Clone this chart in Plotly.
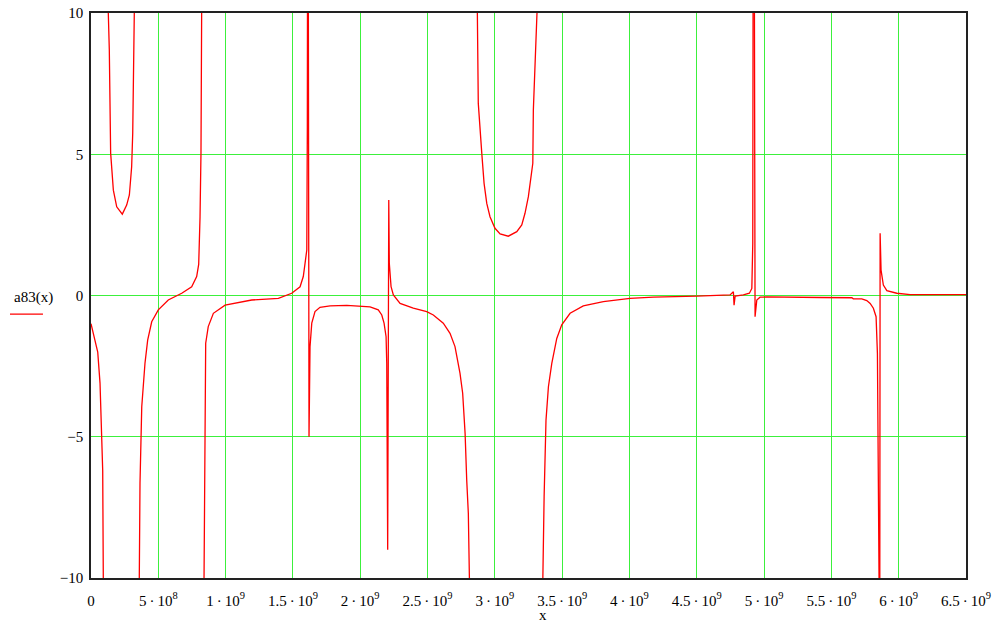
import plotly.graph_objects as go

# x values in units of 1e9, y values of a83(x); None breaks the curve at poles
seg1_x = [0, 0.005, 0.05, 0.067, 0.079, 0.087, 0.092]
seg1_y = [-1.0, -1.1, -2.0, -3.1, -5.0, -6.2, -10.5]

seg2_x = [0.128, 0.1285, 0.136, 0.146, 0.166, 0.191, 0.2325, 0.265, 0.285, 0.302, 0.31, 0.322, 0.323]
seg2_y = [10.5, 10, 8.7, 5.04, 3.73, 3.14, 2.88, 3.2, 3.56, 4.56, 5.75, 10, 10.5]

seg3_x = [0.358, 0.359, 0.364, 0.377, 0.401, 0.421, 0.451, 0.5, 0.574, 0.674, 0.748, 0.785, 0.8, 0.81,
          0.817, 0.822, 0.823]
seg3_y = [-10.5, -10, -6.64, -3.94, -2.4, -1.58, -0.93, -0.51, -0.16, 0.08, 0.31, 0.67, 1.1, 2.79,
          5.04, 10, 10.5]

seg4_x = [0.839, 0.8395, 0.842, 0.852, 0.871, 0.909, 0.996, 1.194, 1.392, 1.491, 1.553, 1.577, 1.59,
          1.603, 1.607, 1.611, 1.6196, 1.627, 1.64, 1.664, 1.701, 1.776, 1.9, 1.999, 2.073, 2.134,
          2.16, 2.177, 2.192, 2.197, 2.201, 2.204, 2.212, 2.216, 2.229, 2.246, 2.296, 2.394, 2.494,
          2.543, 2.617, 2.667, 2.704, 2.741, 2.761, 2.779, 2.791, 2.803, 2.811, 2.812]
seg4_y = [-10.5, -10, -6.64, -1.69, -1.1, -0.63, -0.34, -0.16, -0.1, 0.08, 0.31, 0.67, 1.14,
          1.61, 6, 22, -5.0, -1.81, -0.98, -0.57, -0.42, -0.37, -0.35, -0.37, -0.4, -0.51,
          -0.69, -0.98, -1.46, -2.4, -5.35, -9.0, 3.38, 1.14, 0.31, 0.02, -0.28, -0.45, -0.57,
          -0.69, -0.98, -1.34, -1.81, -2.75, -3.46, -4.88, -6.53, -7.71, -10, -10.5]

seg5_x = [2.869, 2.87, 2.877, 2.903, 2.92, 2.94, 2.964, 3.001, 3.039, 3.1, 3.163, 3.2, 3.224, 3.249,
          3.267, 3.282, 3.286, 3.316, 3.317]
seg5_y = [10.5, 10, 6.8, 5.03, 3.97, 3.26, 2.79, 2.38, 2.18, 2.1, 2.26, 2.5, 2.91, 3.5,
          4.2, 4.68, 6.57, 10, 10.5]

seg6_x = [3.355, 3.356, 3.366, 3.38, 3.398, 3.423, 3.44, 3.46, 3.497, 3.559, 3.657, 3.806, 4.004,
          4.178, 4.5, 4.673, 4.747, 4.772, 4.777, 4.785, 4.846, 4.891, 4.909, 4.916, 4.92, 4.922,
          4.933, 4.946, 4.97, 5.02, 5.416, 5.652, 5.663, 5.726, 5.763, 5.788, 5.812, 5.832, 5.842,
          5.849, 5.854, 5.856, 5.862, 5.869, 5.886, 5.912, 5.986, 6.085, 6.5]
seg6_y = [-10.5, -10, -7.12, -4.41, -3.23, -2.4, -1.93, -1.52, -1.04, -0.63, -0.37, -0.22, -0.1,
          -0.06, -0.02, 0.01, 0.02, 0.13, -0.34, -0.02, 0.02, 0.08, 0.25, 1.85, 10, 25,
          -0.75, -0.16, -0.06, -0.05, -0.07, -0.08, -0.12, -0.12, -0.18, -0.28, -0.45, -0.75, -2.05,
          -5.59, -10, -30, 2.2, 0.9, 0.37, 0.17, 0.08, 0.03, 0.03]

x_tick_vals = [0, 0.5, 1, 1.5, 2, 2.5, 3, 3.5, 4, 4.5, 5, 5.5, 6, 6.5]
x_tick_text = ["0", "5\u2009·\u200910<sup>8</sup>", "1\u2009·\u200910<sup>9</sup>", "1.5\u2009·\u200910<sup>9</sup>",
               "2\u2009·\u200910<sup>9</sup>", "2.5\u2009·\u200910<sup>9</sup>", "3\u2009·\u200910<sup>9</sup>",
               "3.5\u2009·\u200910<sup>9</sup>", "4\u2009·\u200910<sup>9</sup>", "4.5\u2009·\u200910<sup>9</sup>",
               "5\u2009·\u200910<sup>9</sup>", "5.5\u2009·\u200910<sup>9</sup>", "6\u2009·\u200910<sup>9</sup>",
               "6.5\u2009·\u200910<sup>9</sup>"]
y_tick_vals = [-10, -5, 0, 5, 10]
y_tick_text = ["\u221210", "\u22125", "0", "5", "10"]

segments = [(seg1_x, seg1_y), (seg2_x, seg2_y), (seg3_x, seg3_y),
            (seg4_x, seg4_y), (seg5_x, seg5_y), (seg6_x, seg6_y)]
xs, ys = [], []
for sx, sy in segments:
    xs += [v * 1e9 for v in sx] + [None]
    ys += list(sy) + [None]

FONT = "Liberation Serif"
GRID = "rgb(60,240,60)"

fig = go.Figure()
fig.add_trace(go.Scatter(x=xs, y=ys, mode="lines", line=dict(color="#ff0000", width=1.3),
                         connectgaps=False, showlegend=False, hoverinfo="skip"))

fig.update_layout(
    width=994, height=623,
    margin=dict(l=91, r=28, t=13, b=45, autoexpand=False),
    paper_bgcolor="white", plot_bgcolor="white",
    font=dict(family=FONT, size=15, color="black"),
    showlegend=False,
    xaxis=dict(range=[0, 6.5e9], tickmode="array", tickvals=[v * 1e9 for v in x_tick_vals],
               ticktext=x_tick_text, showgrid=True, gridcolor=GRID, gridwidth=1,
               zeroline=False, showline=True, linecolor="#222", linewidth=1.5, mirror=True,
               ticks="", ticklabelstandoff=8, automargin=False,
               tickfont=dict(family=FONT, size=15)),
    yaxis=dict(range=[-10, 10], tickmode="array", tickvals=y_tick_vals, ticktext=y_tick_text,
               showgrid=True, gridcolor=GRID, gridwidth=1, zeroline=False, showline=True,
               linecolor="#222", linewidth=1.5, mirror=True, ticks="", ticklabelstandoff=3,
               automargin=False, tickfont=dict(family=FONT, size=15)),
)

fig.add_annotation(text="x", x=3.358e9, xref="x", y=-0.066, yref="paper", showarrow=False,
                   font=dict(family=FONT, size=15), yanchor="middle")
fig.add_annotation(text="a83(x)", x=-0.066, xref="paper", y=0.4956, yref="paper",
                   showarrow=False, font=dict(family=FONT, size=15), xanchor="center",
                   yanchor="middle")
fig.add_shape(type="line", xref="paper", yref="paper", x0=-0.0926, x1=-0.0549, y0=0.467, y1=0.467,
              line=dict(color="#ff0000", width=1.3))

fig.write_html("out.html", config={"displayModeBar": False},
               post_script="document.body.style.margin='0px';document.body.style.overflow='hidden';")
